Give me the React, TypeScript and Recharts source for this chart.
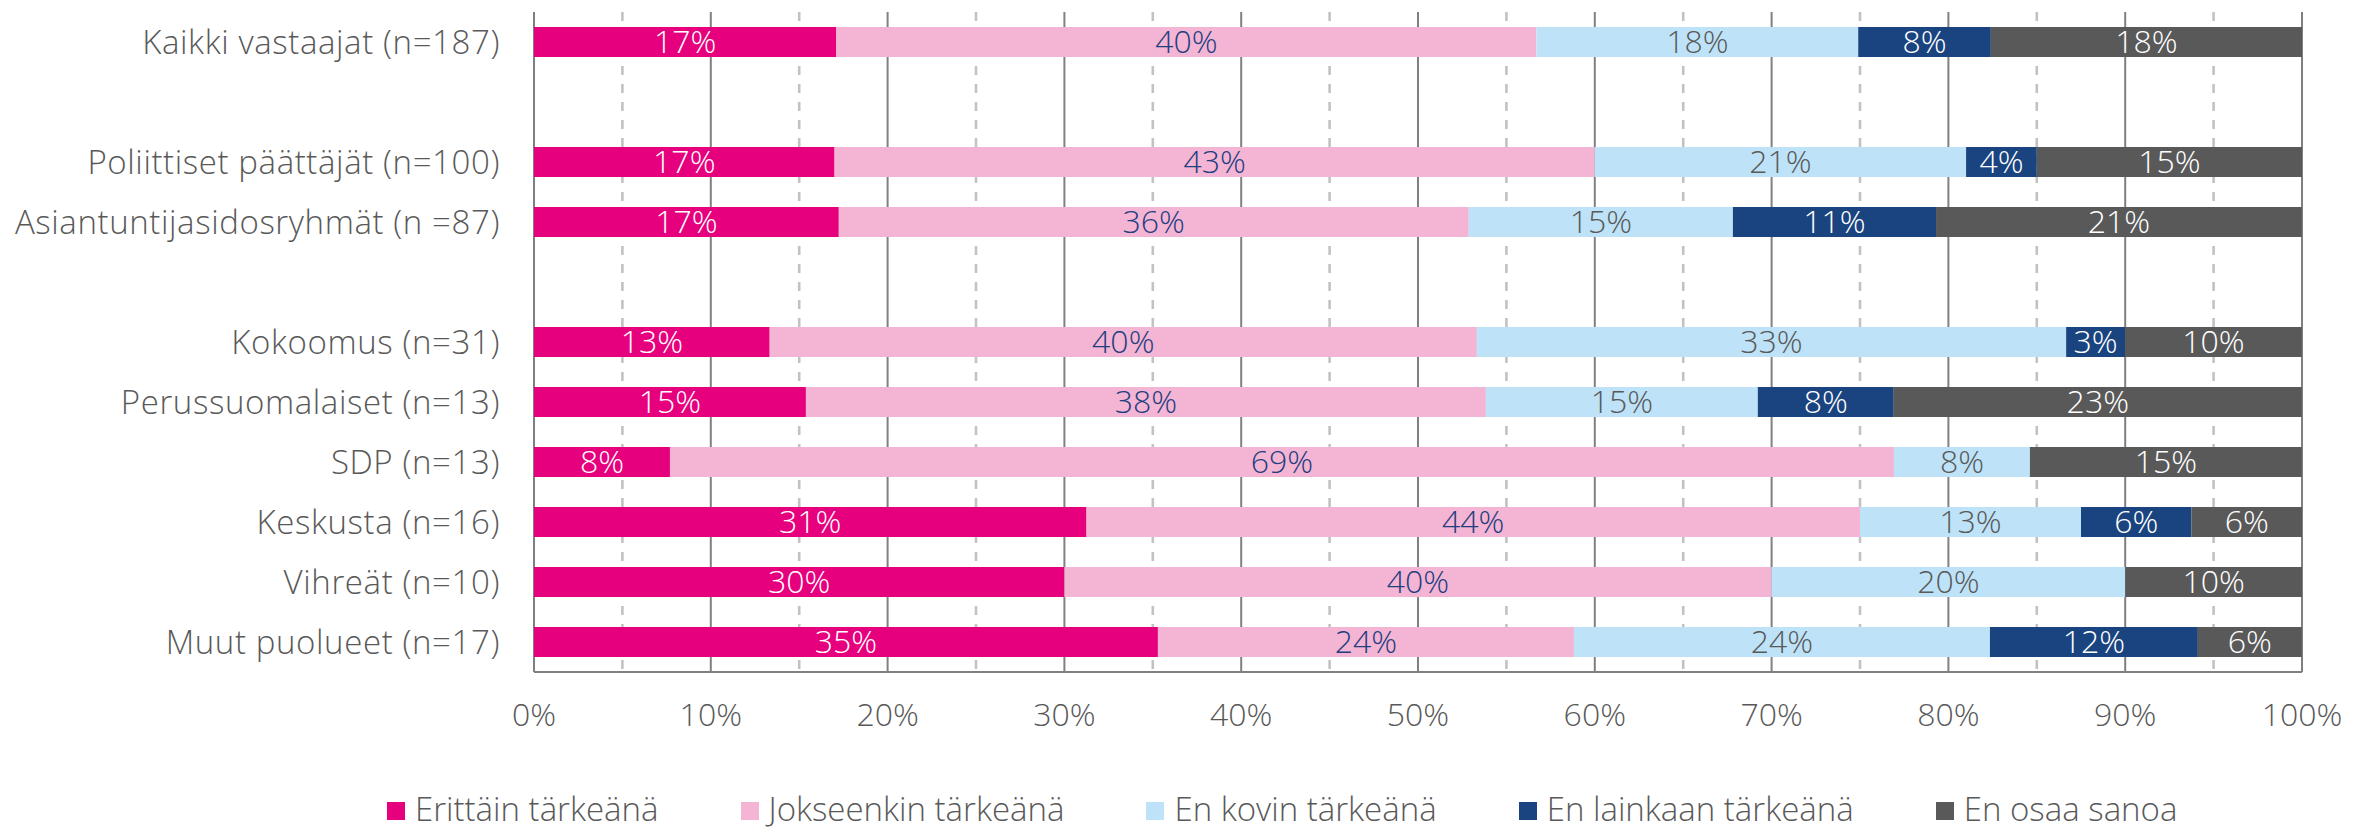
import React from "react";
import {
  BarChart,
  Bar,
  XAxis,
  YAxis,
  CartesianGrid,
  LabelList,
} from "recharts";

// ---- data ----
const categories: string[] = [
  "Kaikki vastaajat (n=187)",
  "",
  "Poliittiset päättäjät (n=100)",
  "Asiantuntijasidosryhmät (n =87)",
  "",
  "Kokoomus (n=31)",
  "Perussuomalaiset (n=13)",
  "SDP (n=13)",
  "Keskusta (n=16)",
  "Vihreät (n=10)",
  "Muut puolueet (n=17)",
];

const seriesNames: string[] = [
  "Erittäin tärkeänä",
  "Jokseenkin tärkeänä",
  "En kovin tärkeänä",
  "En lainkaan tärkeänä",
  "En osaa sanoa",
];

const erittain: (number | null)[] = [17.1, null, 17, 17.24, null, 13.33, 15.38, 7.69, 31.25, 30, 35.29];
const jokseenkin: (number | null)[] = [39.6, null, 43, 35.63, null, 40, 38.46, 69.23, 43.75, 40, 23.53];
const enKovin: (number | null)[] = [18.2, null, 21, 14.94, null, 33.33, 15.38, 7.69, 12.5, 20, 23.53];
const enLainkaan: (number | null)[] = [7.5, null, 4, 11.49, null, 3.33, 7.69, 0, 6.25, 0, 11.76];
const enOsaa: (number | null)[] = [17.6, null, 15, 20.69, null, 10, 23.08, 15.38, 6.25, 10, 5.88];

const xTicks: number[] = [0, 10, 20, 30, 40, 50, 60, 70, 80, 90, 100];
const minorTicks: number[] = [5, 15, 25, 35, 45, 55, 65, 75, 85, 95];

// ---- styles ----
const FONT = "'Open Sans', 'DejaVu Sans', sans-serif";
const TEXT = "#595959";
const colors = ["#E6007E", "#F4B4D4", "#BEE3F8", "#1A4480", "#595959"];
const labelColors = ["#FFFFFF", "#1F3F80", "#595959", "#FFFFFF", "#FFFFFF"];
const keys = ["s0", "s1", "s2", "s3", "s4"];
const seriesValues = [erittain, jokseenkin, enKovin, enLainkaan, enOsaa];

const data = categories.map((name, i) => {
  const row: Record<string, any> = { idx: i, name };
  keys.forEach((k, s) => {
    row[k] = seriesValues[s][i];
  });
  return row;
});

const fmtLabel = (v: any) => {
  if (v === null || v === undefined || v === 0) return "";
  return `${Math.round(Number(v))}%`;
};

export default function App() {
  return (
    <div style={{ position: "absolute", left: 0, top: 0, width: 2354, height: 828, background: "#fff" }}>
      <BarChart
        width={2354}
        height={828}
        data={data}
        layout="vertical"
        margin={{ top: 12, right: 52, left: 0, bottom: 0 }}
        barSize={30}
      >
        <CartesianGrid
          horizontal={false}
          vertical={true}
          verticalValues={minorTicks}
          stroke="#C2C2C2"
          strokeWidth={2.6}
          strokeDasharray="9 9"
        />
        <CartesianGrid horizontal={false} vertical={true} stroke="#808080" strokeWidth={2} />
        <XAxis
          type="number"
          domain={[0, 100]}
          ticks={xTicks}
          tickFormatter={(v: number) => `${v}%`}
          tickLine={false}
          tickSize={0}
          tickMargin={31}
          height={156}
          axisLine={{ stroke: "#808080", strokeWidth: 2 }}
          tick={{ fill: TEXT, fontSize: 32, fontFamily: FONT, fontWeight: 300 }}
          interval={0}
        />
        <XAxis
          xAxisId="top"
          orientation="top"
          type="number"
          domain={[0, 100]}
          ticks={xTicks}
          tick={false}
          tickLine={false}
          height={0}
          axisLine={{ stroke: "#808080", strokeWidth: 2 }}
        />
        <YAxis
          type="category"
          dataKey="idx"
          width={534}
          tickLine={false}
          axisLine={false}
          tickSize={0}
          tickMargin={34}
          interval={0}
          tickFormatter={(i: number) => categories[i]}
          tick={{ fill: TEXT, fontSize: 33, fontFamily: FONT, fontWeight: 300, letterSpacing: 0.6 }}
        />
        {keys.map((k, s) => (
          <Bar key={k} dataKey={k} name={seriesNames[s]} stackId="a" fill={colors[s]} isAnimationActive={false}>
            <LabelList
              dataKey={k}
              position="center"
              formatter={fmtLabel}
              fill={labelColors[s]}
              style={{ fontSize: 32, fontFamily: FONT, fontWeight: 300 }}
            />
          </Bar>
        ))}
      </BarChart>
      <div
        style={{
          position: "absolute",
          left: 387,
          top: 793,
          display: "flex",
          alignItems: "center",
          fontFamily: FONT,
          fontWeight: 300,
          fontSize: 33,
          lineHeight: "32px",
          color: TEXT,
          whiteSpace: "nowrap",
        }}
      >
        {seriesNames.map((n, s) => (
          <div key={n} style={{ display: "flex", alignItems: "center", marginRight: s < seriesNames.length - 1 ? 82 : 0 }}>
            <span style={{ display: "inline-block", width: 18, height: 18, background: colors[s], marginRight: 10, marginTop: 3 }} />
            <span>{n}</span>
          </div>
        ))}
      </div>
    </div>
  );
}
